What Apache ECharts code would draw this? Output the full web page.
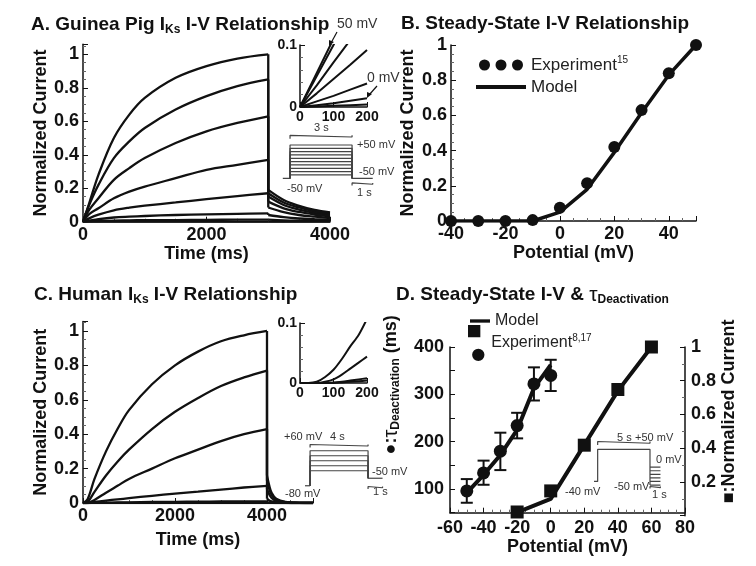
<!DOCTYPE html>
<html>
<head>
<meta charset="utf-8">
<script src="https://cdn.jsdelivr.net/npm/echarts@6/dist/echarts.min.js"></script>
<style>
  html, body { margin: 0; padding: 0; background: #fff; }
  #main { width: 756px; height: 566px; }
</style>
</head>
<body>
<div id="main"></div>
<script>
// ---------- data ----------
// A: guinea pig IKs traces, steps from -50 mV holding
const stepsA = [50, 40, 30, 20, 10, 0, -10, -20];
const tA = [0, 100, 250, 500, 750, 1000, 1500, 2000, 2500, 3000];
const iA = [
  [0, 0.11, 0.28, 0.5, 0.64, 0.74, 0.86, 0.93, 0.975, 1.0],
  [0, 0.1, 0.22, 0.38, 0.48, 0.56, 0.67, 0.75, 0.81, 0.85],
  [0, 0.07, 0.14, 0.25, 0.32, 0.38, 0.47, 0.54, 0.59, 0.63],
  [0, 0.045, 0.08, 0.14, 0.18, 0.21, 0.26, 0.31, 0.34, 0.37],
  [0, 0.02, 0.042, 0.068, 0.084, 0.096, 0.115, 0.135, 0.153, 0.17],
  [0, 0.006, 0.015, 0.025, 0.03, 0.034, 0.04, 0.044, 0.047, 0.05],
  [0, 0.002, 0.004, 0.007, 0.008, 0.009, 0.01, 0.011, 0.012, 0.012],
  [0, 0, 0, 0, 0, 0, 0, 0, 0, 0]
];
const tATail = [3000, 3250, 3500, 3750, 4000];
const iATail = [
  [0.19, 0.13, 0.095, 0.07, 0.055],
  [0.17, 0.115, 0.085, 0.062, 0.048],
  [0.15, 0.1, 0.072, 0.053, 0.04],
  [0.12, 0.08, 0.058, 0.043, 0.032],
  [0.085, 0.057, 0.04, 0.03, 0.022],
  [0.04, 0.027, 0.019, 0.015, 0.012],
  [0.012, 0.008, 0.006, 0.005, 0.004],
  [0, 0, 0, 0, 0]
];
// A inset: first 200 ms
const tAIn = [0, 50, 100, 150, 200];
const iAIn = [
  [0, 0.055, 0.11, 0.165, 0.22],
  [0, 0.05, 0.1, 0.15, 0.2],
  [0, 0.035, 0.072, 0.108, 0.144],
  [0, 0.022, 0.045, 0.068, 0.092],
  [0, 0.009, 0.018, 0.028, 0.038],
  [0, 0.003, 0.006, 0.01, 0.014],
  [0, 0.001, 0.002, 0.003, 0.004]
];
// A protocol (s, mV)
const protAHold = -50;
const protAStep = 3;
const protATail = 1;
const protALevels = [50, 40, 30, 20, 10, 0, -10, -20, -30, -40];

// B: steady-state I-V
const vB = [-40, -30, -20, -10, 0, 10, 20, 30, 40, 50];
const expB = [0, 0, 0, 0.005, 0.075, 0.215, 0.42, 0.63, 0.84, 1.0];
const modelB = [0, 0, 0, 0, 0.05, 0.18, 0.39, 0.615, 0.83, 1.0];

// C: human IKs traces, steps from -80 mV holding
const tC = [0, 100, 250, 500, 750, 1000, 1500, 2000, 2500, 3000, 3500, 4000];
const iC = [
  [0, 0.022, 0.14, 0.3, 0.43, 0.54, 0.69, 0.8, 0.88, 0.94, 0.975, 1.0],
  [0, 0.006, 0.065, 0.16, 0.24, 0.31, 0.43, 0.53, 0.61, 0.68, 0.73, 0.77],
  [0, 0.001, 0.018, 0.06, 0.1, 0.14, 0.2, 0.26, 0.31, 0.36, 0.4, 0.43],
  [0, 0, 0.006, 0.014, 0.021, 0.028, 0.042, 0.055, 0.066, 0.078, 0.09, 0.1],
  [0, 0, 0.001, 0.002, 0.003, 0.004, 0.006, 0.007, 0.008, 0.009, 0.01, 0.01],
  [0, 0, 0, 0, 0, 0, 0, 0, 0, 0, 0, 0]
];
const tCTail = [4000, 4050, 4100, 4200, 4400, 4700, 5000];
const iCTail = [
  [0.16, 0.1, 0.06, 0.025, 0.006, 0.001, 0],
  [0.13, 0.08, 0.048, 0.02, 0.005, 0.001, 0],
  [0.08, 0.05, 0.03, 0.012, 0.003, 0, 0],
  [0.025, 0.015, 0.009, 0.004, 0.001, 0, 0],
  [0.003, 0.002, 0.001, 0, 0, 0, 0],
  [0, 0, 0, 0, 0, 0, 0]
];
const tCIn = [0, 25, 50, 75, 100, 125, 150, 175, 200];
const iCIn = [
  [0, 0, 0.002, 0.01, 0.022, 0.04, 0.061, 0.08, 0.107],
  [0, 0, 0, 0.002, 0.006, 0.014, 0.024, 0.034, 0.044],
  [0, 0, 0, 0, 0.001, 0.002, 0.004, 0.006, 0.008],
  [0, 0, 0, 0, 0, 0.001, 0.002, 0.003, 0.004]
];
const protCHold = -80;
const protCStep = 4;
const protCTailV = -50;
const protCTail = 1;
const protCLevels = [60, 40, 20, 0, -20];

// D: tau deactivation (left) and steady-state current (right)
const vTau = [-50, -40, -30, -20, -10, 0];
const tauMean = [96, 134, 180, 234, 322, 340];
const tauLo = [71, 109, 140, 207, 287, 307];
const tauHi = [121, 160, 219, 261, 357, 373];
const tauModel = [92, 130, 172, 225, 313, 362];
const vIss = [-20, 0, 20, 40, 60];
const issExp = [0.022, 0.147, 0.418, 0.748, 1.0];
const issModel = [0.02, 0.1, 0.42, 0.74, 1.0];
const protDHold = -40;
const protDStepV = 50;
const protDStep = 5;
const protDTail = 1;
const protDTailLevels = [0, -10, -20, -30, -40, -50];

// ---------- helpers ----------
const FONT = 'Liberation Sans';
const INK = '#111';
const PROT = '#444';

const pairs = (xs, ys) => xs.map((x, i) => [x, ys[i]]);

function valAxis(grid, min, max, interval, extra) {
  return Object.assign({
    type: 'value', gridIndex: grid, min: min, max: max, interval: interval,
    axisLine: { show: true, onZero: false, lineStyle: { color: INK, width: 1.5 } },
    axisTick: { show: true, inside: true, length: 5, lineStyle: { color: INK, width: 1 } },
    minorTick: { show: true, splitNumber: 4, length: 3, lineStyle: { color: '#666' } },
    splitLine: { show: false },
    axisLabel: { color: INK, fontFamily: FONT, fontWeight: 'bold', fontSize: 18, margin: 4 },
    nameTextStyle: { color: INK, fontFamily: FONT, fontWeight: 'bold', fontSize: 18 },
    nameLocation: 'middle'
  }, extra || {});
}
function hidden(grid, min, max) {
  return { type: 'value', gridIndex: grid, min: min, max: max, show: false,
    splitLine: { show: false } };
}
// hide labels that are not multiples of step, above top or below bottom
const fmt = (step, top, bottom) => v => {
  if (top !== undefined && top !== null && v > top + 1e-9) return '';
  if (bottom !== undefined && v < bottom - 1e-9) return '';
  const r = v / step;
  return Math.abs(r - Math.round(r)) < 1e-6 ? String(+v.toFixed(3)) : '';
};

function curve(x, y, data, w, smooth) {
  return { type: 'line', xAxisIndex: x, yAxisIndex: y, data: data, symbol: 'none',
    silent: true, animation: false, smooth: smooth || false,
    lineStyle: { color: INK, width: w || 2.3 } };
}
function prot(x, y, data) {
  return { type: 'line', xAxisIndex: x, yAxisIndex: y, data: data, symbol: 'none',
    silent: true, animation: false, clip: false,
    lineStyle: { color: PROT, width: 1.2 } };
}
function bracket(t0, t1, v, cap) {
  return [[t0, v - cap], [t0, v + cap], [t0, v], [t1, v], [t1, v + cap], [t1, v - cap]];
}
// activation phase, vertical return at step end, then tail
function trace(x, y, t, vals, tt, tails) {
  const last = t.length - 1;
  series.push(curve(x, y, pairs(t, vals), 2.3, 0.35));
  series.push(curve(x, y, [[t[last], vals[last]], [tt[0], tails[0]]], 2.3));
  series.push(curve(x, y, pairs(tt, tails), 2.3, 0.35));
}

// ---------- series ----------
const series = [];

// A main traces (grid 0)
stepsA.forEach((v, k) => trace(0, 0, tA, iA[k], tATail, iATail[k]));
// A inset (grid 1)
iAIn.forEach(vals => series.push(curve(1, 1, pairs(tAIn, vals), 2)));
// A protocol (grid 2)
series.push(prot(2, 2, [[-0.35, protAHold], [0, protAHold]]));
protALevels.forEach(v => series.push(prot(2, 2,
  [[0, protAHold], [0, v], [protAStep, v], [protAStep, protAHold]])));
series.push(prot(2, 2, [[protAStep, protAHold], [protAStep + protATail, protAHold]]));
series.push(prot(2, 2, bracket(0, protAStep, 74, 5)));
series.push(prot(2, 2, bracket(protAStep, protAStep + protATail, -68, 4)));

// B (grid 3)
series.push({ name: 'ModelB', type: 'line', xAxisIndex: 3, yAxisIndex: 3,
  data: pairs(vB, modelB), symbol: 'none', animation: false, color: INK,
  lineStyle: { color: INK, width: 3.5 } });
series.push({ name: 'ExpB', type: 'scatter', xAxisIndex: 3, yAxisIndex: 3,
  data: pairs(vB, expB), symbol: 'circle', symbolSize: 12, animation: false,
  color: INK, itemStyle: { color: INK, opacity: 1 }, z: 5 });

// C main traces (grid 4)
iC.forEach((vals, k) => trace(4, 4, tC, vals, tCTail, iCTail[k]));
// C inset (grid 5)
iCIn.forEach(vals => series.push(curve(5, 5, pairs(tCIn, vals), 2, 0.3)));
// C protocol (grid 6)
series.push(prot(6, 6, [[-0.35, protCHold], [0, protCHold]]));
protCLevels.forEach(v => series.push(prot(6, 6,
  [[0, protCHold], [0, v], [protCStep, v], [protCStep, protCTailV]])));
series.push(prot(6, 6, [[protCStep, protCTailV], [protCStep + protCTail, protCTailV]]));
series.push(prot(6, 6, bracket(0, protCStep, 79, 6)));
series.push(prot(6, 6, bracket(protCStep, protCStep + protCTail, -88, 5)));

// D left: tau (grid 7)
series.push({ name: 'ModelD', type: 'line', xAxisIndex: 7, yAxisIndex: 7,
  data: pairs(vTau, tauModel), symbol: 'none', animation: false, color: INK,
  lineStyle: { color: INK, width: 4 } });
series.push({ name: 'ExpD', type: 'custom', xAxisIndex: 7, yAxisIndex: 7,
  data: vTau.map((v, i) => [v, tauMean[i], tauLo[i], tauHi[i]]),
  animation: false, z: 4, color: INK,
  renderItem: function (params, api) {
    const top = api.coord([api.value(0), api.value(3)]);
    const bot = api.coord([api.value(0), api.value(2)]);
    const st = { stroke: INK, lineWidth: 2 };
    return { type: 'group', children: [
      { type: 'line', shape: { x1: top[0], y1: top[1], x2: bot[0], y2: bot[1] }, style: st },
      { type: 'line', shape: { x1: top[0] - 6, y1: top[1], x2: top[0] + 6, y2: top[1] }, style: st },
      { type: 'line', shape: { x1: bot[0] - 6, y1: bot[1], x2: bot[0] + 6, y2: bot[1] }, style: st }
    ] };
  }
});
series.push({ name: 'ExpD', type: 'scatter', xAxisIndex: 7, yAxisIndex: 7,
  data: pairs(vTau, tauMean), symbol: 'circle', symbolSize: 13, animation: false,
  color: INK, itemStyle: { color: INK, opacity: 1 }, z: 5 });
// D right: normalized current (grid 8)
series.push({ name: 'ModelD', type: 'line', xAxisIndex: 8, yAxisIndex: 8,
  data: pairs(vIss, issModel), symbol: 'none', animation: false, color: INK,
  lineStyle: { color: INK, width: 4 } });
series.push({ name: 'ExpD', type: 'scatter', xAxisIndex: 8, yAxisIndex: 8,
  data: pairs(vIss, issExp), symbol: 'rect', symbolSize: 13, animation: false,
  color: INK, itemStyle: { color: INK, opacity: 1 }, z: 5, clip: false });
// D protocol (grid 9)
series.push(prot(9, 9, [[-0.35, protDHold], [0, protDHold], [0, protDStepV],
  [protDStep, protDStepV], [protDStep, protDTailLevels[protDTailLevels.length - 1]]]));
protDTailLevels.forEach(v => series.push(prot(9, 9,
  [[protDStep, v], [protDStep + protDTail, v]])));
series.push(prot(9, 9, bracket(0, protDStep, 67, 5)));
series.push(prot(9, 9, bracket(protDStep, protDStep + protDTail, -57, 3)));

// ---------- layout ----------
const grids = [
  { left: 83, top: 44.3, width: 247, height: 177.4 },   // 0 A
  { left: 300, top: 45, width: 67, height: 62 },        // 1 A inset
  { left: 282.8, top: 135, width: 92, height: 51.6 },   // 2 A protocol
  { left: 451, top: 45, width: 245, height: 176 },      // 3 B
  { left: 83, top: 321.5, width: 230, height: 181.5 },  // 4 C
  { left: 300, top: 323, width: 67, height: 60 },       // 5 C inset
  { left: 305, top: 444.5, width: 79, height: 45 },     // 6 C protocol
  { left: 450, top: 347, width: 235, height: 165.7 },   // 7 D left
  { left: 450, top: 347, width: 235, height: 168.7 },   // 8 D right
  { left: 594, top: 442.2, width: 67.5, height: 48.2 }  // 9 D protocol
].map(g => Object.assign({ outerBoundsMode: 'none', containLabel: false }, g));

const small = { fontSize: 14, margin: 3 };
const xAxis = [
  valAxis(0, 0, 4000, 2000, { name: 'Time (ms)', nameGap: 17,
    axisLabel: Object.assign({}, valAxis(0).axisLabel, { formatter: fmt(2000) }) }),
  valAxis(1, 0, 200, 100, { axisLabel: Object.assign({}, valAxis(0).axisLabel, small),
    minorTick: { show: false } }),
  hidden(2, -0.35, 4.1),
  valAxis(3, -40, 50, 20, { name: 'Potential (mV)', nameGap: 20,
    axisLabel: Object.assign({}, valAxis(0).axisLabel, { formatter: fmt(20, 40) }) }),
  valAxis(4, 0, 5000, 2000, { name: 'Time (ms)', nameGap: 28,
    axisLabel: Object.assign({}, valAxis(0).axisLabel, { formatter: fmt(2000) }) }),
  valAxis(5, 0, 200, 100, { axisLabel: Object.assign({}, valAxis(0).axisLabel, small),
    minorTick: { show: false } }),
  hidden(6, -0.35, 5.1),
  valAxis(7, -60, 80, 20, { name: 'Potential (mV)', nameGap: 22,
    axisLabel: Object.assign({}, valAxis(0).axisLabel, { margin: 6 }) }),
  hidden(8, -60, 80),
  hidden(9, -0.35, 6.1)
];
const yAxis = [
  valAxis(0, 0, 1.06, 0.2, { name: 'Normalized Current', nameGap: 32, nameRotate: 90,
    axisLabel: Object.assign({}, valAxis(0).axisLabel, { formatter: fmt(0.2, 1) }) }),
  valAxis(1, 0, 0.1, 0.1, { axisLabel: Object.assign({}, valAxis(0).axisLabel, small),
    minorTick: { show: true, splitNumber: 5, length: 3, lineStyle: { color: '#666' } } }),
  hidden(2, -75, 80),
  valAxis(3, 0, 1, 0.2, { name: 'Normalized Current', nameGap: 34, nameRotate: 90 }),
  valAxis(4, 0, 1.055, 0.2, { name: 'Normalized Current', nameGap: 31, nameRotate: 90,
    axisLabel: Object.assign({}, valAxis(0).axisLabel, { formatter: fmt(0.2, 1) }) }),
  valAxis(5, 0, 0.1, 0.1, { axisLabel: Object.assign({}, valAxis(0).axisLabel, small),
    minorTick: { show: true, splitNumber: 5, length: 3, lineStyle: { color: '#666' } } }),
  hidden(6, -95, 85),
  valAxis(7, 50, 400, 50, {
    name: '●:{tau|τ}{sub|Deactivation} (ms)', nameGap: 48, nameRotate: 90,
    minorTick: { show: false },
    axisLabel: Object.assign({}, valAxis(0).axisLabel, { formatter: fmt(100), margin: 6 }),
    nameTextStyle: { color: INK, fontFamily: FONT, fontWeight: 'bold', fontSize: 18,
      padding: [0, 0, 0, 90],
      rich: { tau: { fontSize: 20, fontWeight: 'normal', fontFamily: FONT, color: INK },
              sub: { fontSize: 12, fontWeight: 'bold', fontFamily: FONT, color: INK,
                     padding: [10, 0, 0, 0] } } } }),
  valAxis(8, 0, 1, 0.2, { position: 'right', name: '■:Normalized Current', nameGap: 34,
    nameRotate: 90,
    minorTick: { show: true, splitNumber: 2, length: 3, lineStyle: { color: '#666' } },
    axisLabel: Object.assign({}, valAxis(0).axisLabel, { formatter: fmt(0.2, null, 0.2), margin: 6 }),
    nameTextStyle: { color: INK, fontFamily: FONT, fontWeight: 'bold', fontSize: 18,
      padding: [0, 0, 0, 40] } }),
  hidden(9, -65, 70)
];

const titleStyle = {
  color: INK, fontFamily: FONT, fontWeight: 'bold', fontSize: 19,
  rich: {
    sub: { fontSize: 12, fontWeight: 'bold', fontFamily: FONT, color: INK, padding: [10, 0, 0, 0] },
    tau: { fontSize: 21, fontWeight: 'normal', fontFamily: FONT, color: INK }
  }
};
const title = [
  { text: 'A. Guinea Pig I{sub|Ks} I-V Relationship', left: 31, top: 14, textStyle: titleStyle },
  { text: 'B. Steady-State I-V Relationship', left: 401, top: 14, textStyle: titleStyle },
  { text: 'C. Human I{sub|Ks} I-V Relationship', left: 34, top: 284, textStyle: titleStyle },
  { text: 'D. Steady-State I-V & {tau|τ}{sub|Deactivation}', left: 396, top: 284, textStyle: titleStyle }
].map(t => Object.assign({ padding: 0 }, t));

const legText = {
  fontFamily: FONT, fontSize: 17, color: '#222',
  rich: { sup: { fontSize: 10, fontFamily: FONT, color: '#222', padding: [0, 0, 10, 0] } }
};
const legend = [
  { left: 471, top: 50, orient: 'vertical', itemWidth: 50, itemHeight: 11, itemGap: 5,
    selectedMode: false, textStyle: legText,
    data: [
      { name: 'ExpB', icon: 'path://M0,5.5a5.5,5.5 0 1,0 11,0a5.5,5.5 0 1,0 -11,0z M16.5,5.5a5.5,5.5 0 1,0 11,0a5.5,5.5 0 1,0 -11,0z M33,5.5a5.5,5.5 0 1,0 11,0a5.5,5.5 0 1,0 -11,0z' },
      { name: 'ModelB', icon: 'path://M0,0h36v3h-36z' }
    ],
    formatter: n => n === 'ExpB' ? 'Experiment{sup|15}' : 'Model' },
  { left: 465, top: 308, orient: 'vertical', itemWidth: 20, itemHeight: 16,
    selectedMode: false, textStyle: Object.assign({}, legText, { fontSize: 16 }),
    data: [{ name: 'ModelD', icon: 'path://M0,0h18v3h-18z' }],
    formatter: () => 'Model' },
  { left: 463, top: 320, orient: 'vertical', itemWidth: 20, itemHeight: 36,
    selectedMode: false, textStyle: Object.assign({}, legText, { fontSize: 16 }),
    data: [{ name: 'ExpD', icon: 'path://M0,0h12v12h-12z M4,29a6,6 0 1,0 12,0a6,6 0 1,0 -12,0z' }],
    formatter: () => 'Experiment{sup|8,17}' }
];

// protocol / inset annotations
const notes = [
  ['50 mV', 337, 17, 14], ['0 mV', 367, 71, 14],
  ['3 s', 314, 122, 11], ['+50 mV', 357, 139, 11], ['-50 mV', 359, 166, 11],
  ['-50 mV', 287, 183, 11], ['1 s', 357, 187, 11],
  ['+60 mV', 284, 431, 11], ['4 s', 330, 431, 11], ['-50 mV', 372, 466, 11],
  ['-80 mV', 285, 488, 11], ['1 s', 373, 486, 11],
  ['5 s', 617, 432, 11], ['+50 mV', 635, 432, 11], ['0 mV', 656, 454, 11],
  ['-50 mV', 614, 481, 11], ['-40 mV', 565, 486, 11], ['1 s', 652, 489, 11]
];
const graphic = notes.map(n => ({ type: 'text', left: n[1], top: n[2], silent: true,
  style: { text: n[0], fontSize: n[3], fontFamily: FONT, fill: '#333' } }));
graphic.push(
  { type: 'line', silent: true, shape: { x1: 337, y1: 32, x2: 331, y2: 43 },
    style: { stroke: INK, lineWidth: 1.2 } },
  { type: 'polygon', silent: true, shape: { points: [[329, 46], [329, 40], [334, 42]] },
    style: { fill: INK } },
  { type: 'line', silent: true, shape: { x1: 377, y1: 86, x2: 369, y2: 95 },
    style: { stroke: INK, lineWidth: 1.2 } },
  { type: 'polygon', silent: true, shape: { points: [[367, 98], [367, 92], [372, 94]] },
    style: { fill: INK } }
);

const chart = echarts.init(document.getElementById('main'), null, { renderer: 'canvas' });
chart.setOption({
  backgroundColor: '#fff',
  animation: false,
  title: title,
  legend: legend,
  grid: grids,
  xAxis: xAxis,
  yAxis: yAxis,
  series: series,
  graphic: graphic
});
</script>
</body>
</html>
